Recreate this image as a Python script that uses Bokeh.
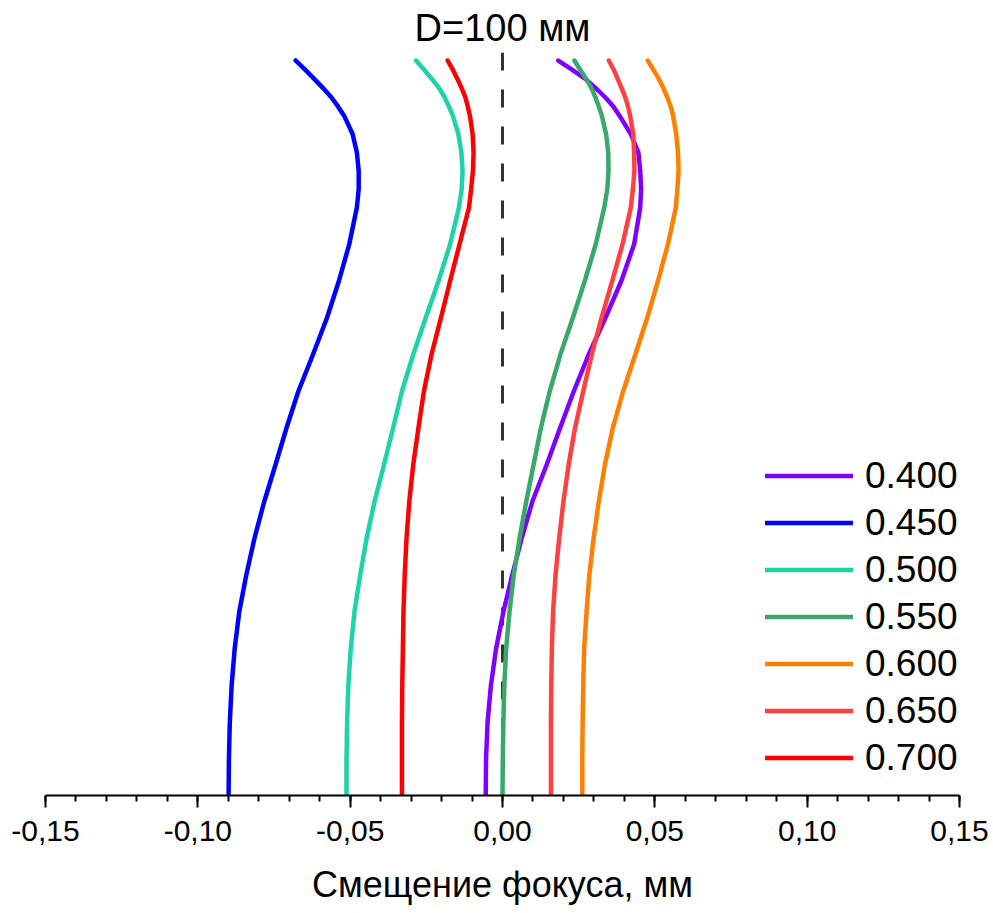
from bokeh.plotting import figure
from bokeh.models import Range1d, Span, Legend, LegendItem, FixedTicker, CustomJSTickFormatter, Title
from bokeh.embed import file_html
from bokeh.resources import INLINE

# relative height (hidden axis)
h = [0.0, 0.05, 0.1, 0.15, 0.2, 0.25, 0.3, 0.35, 0.4, 0.45, 0.5,
     0.55, 0.6, 0.65, 0.7, 0.75, 0.8, 0.825, 0.85, 0.875, 0.9, 0.925,
     0.9375, 0.95, 0.9625, 0.975, 0.9875, 1.0]

wl_labels = ["0.400", "0.450", "0.500", "0.550", "0.600", "0.650", "0.700"]
colors = ["#8000FF", "#0000FF", "#1ED2AA", "#38A968", "#FF8000", "#FF4040", "#FF0000"]

x_400 = [-0.0055, -0.0054, -0.0049, -0.0038, -0.0021, 0.0003, 0.0032, 0.0063, 0.0098, 0.0145, 0.0189,
         0.0234, 0.0283, 0.0338, 0.0390, 0.0432, 0.0452, 0.0455, 0.0452, 0.0446, 0.0421, 0.0384,
         0.0364, 0.0337, 0.0306, 0.0272, 0.0228, 0.0183]
x_450 = [-0.0899, -0.0898, -0.0895, -0.0889, -0.0879, -0.0864, -0.0841, -0.0814, -0.0782, -0.0745, -0.0709,
         -0.0670, -0.0622, -0.0576, -0.0537, -0.0503, -0.0478, -0.0472, -0.0472, -0.0478, -0.0492, -0.0520,
         -0.0540, -0.0562, -0.0589, -0.0618, -0.0648, -0.0679]
x_500 = [-0.0512, -0.0512, -0.0510, -0.0506, -0.0498, -0.0486, -0.0467, -0.0446, -0.0420, -0.0389, -0.0359,
         -0.0330, -0.0293, -0.0252, -0.0210, -0.0172, -0.0143, -0.0134, -0.0131, -0.0135, -0.0145, -0.0163,
         -0.0176, -0.0190, -0.0208, -0.0232, -0.0257, -0.0284]
x_550 = [0.0000, 0.0001, 0.0003, 0.0006, 0.0012, 0.0023, 0.0037, 0.0056, 0.0078, 0.0102, 0.0126,
         0.0155, 0.0190, 0.0231, 0.0270, 0.0306, 0.0334, 0.0344, 0.0348, 0.0347, 0.0340, 0.0326,
         0.0316, 0.0305, 0.0292, 0.0275, 0.0255, 0.0236]
x_600 = [0.0262, 0.0262, 0.0263, 0.0265, 0.0268, 0.0276, 0.0285, 0.0299, 0.0316, 0.0336, 0.0362,
         0.0396, 0.0436, 0.0475, 0.0510, 0.0543, 0.0569, 0.0574, 0.0578, 0.0576, 0.0570, 0.0560,
         0.0552, 0.0541, 0.0528, 0.0513, 0.0495, 0.0477]
x_650 = [0.0159, 0.0159, 0.0159, 0.0160, 0.0162, 0.0166, 0.0174, 0.0186, 0.0200, 0.0217, 0.0238,
         0.0265, 0.0293, 0.0325, 0.0360, 0.0394, 0.0421, 0.0428, 0.0433, 0.0432, 0.0429, 0.0419,
         0.0412, 0.0403, 0.0391, 0.0378, 0.0365, 0.0349]
x_700 = [-0.0330, -0.0330, -0.0330, -0.0329, -0.0327, -0.0325, -0.0321, -0.0315, -0.0306, -0.0293, -0.0276,
         -0.0258, -0.0233, -0.0202, -0.0172, -0.0141, -0.0110, -0.0103, -0.0097, -0.0095, -0.0098, -0.0107,
         -0.0114, -0.0122, -0.0134, -0.0148, -0.0163, -0.0180]

x_ticks = [-0.15, -0.10, -0.05, 0.0, 0.05, 0.10, 0.15]
x_minor = [round(-0.15 + 0.01 * i, 2) for i in range(31)]
title_text = "D=100 мм"
x_label = "Смещение фокуса, мм"

series = [x_400, x_450, x_500, x_550, x_600, x_650, x_700]

FONT = "Liberation Sans"

p = figure(width=993, height=913, output_backend="svg", toolbar_location=None,
           x_range=Range1d(-0.15, 0.15), y_range=Range1d(0, 1.0109),
           y_axis_location=None, min_border_left=45, min_border_right=34,
           min_border_top=52, min_border_bottom=118)
p.outline_line_color = None
p.xgrid.visible = False
p.ygrid.visible = False
p.background_fill_color = "white"
p.border_fill_color = "white"

t = Title(text=title_text, align="center", text_font=FONT, text_font_size="38px",
          text_font_style="normal", text_color="black", standoff=8)
p.add_layout(t, "above")

span = Span(location=0, dimension="height", line_color="#333333", line_width=3,
            line_dash="18 19", level="underlay")
p.add_layout(span)

items = []
for xs, col, lab in zip(series, colors, wl_labels):
    r = p.line(xs, h, line_color=col, line_width=4.5, line_join="round", line_cap="round")
    items.append(LegendItem(label=lab, renderers=[r]))

leg = Legend(items=items, location=(720, 14), glyph_width=88, glyph_height=47,
             label_height=47, spacing=0, padding=0, margin=0, label_standoff=12,
             label_text_font=FONT, label_text_font_size="37px", label_text_color="black",
             border_line_color=None, background_fill_alpha=0)
p.add_layout(leg)

ax = p.xaxis[0]
ax.ticker = FixedTicker(ticks=x_ticks, minor_ticks=x_minor)
ax.formatter = CustomJSTickFormatter(code="return tick.toFixed(2).replace('.', ',');")
ax.axis_line_width = 2
ax.axis_line_color = "black"
ax.major_tick_line_width = 2
ax.minor_tick_line_width = 2
ax.major_tick_out = 12
ax.major_tick_in = 0
ax.minor_tick_out = 6
ax.minor_tick_in = 0
ax.major_label_standoff = 13
ax.major_label_text_font = FONT
ax.major_label_text_font_size = "30px"
ax.major_label_text_color = "black"
ax.axis_label = x_label
ax.axis_label_text_font = FONT
ax.axis_label_text_font_size = "36px"
ax.axis_label_text_font_style = "normal"
ax.axis_label_standoff = 20
ax.axis_label_text_color = "black"

open("out.html", "w").write(file_html(p, INLINE))
